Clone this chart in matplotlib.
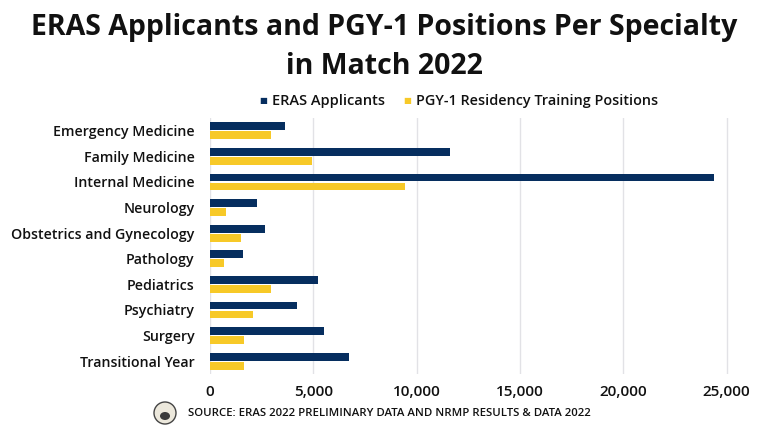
import matplotlib.pyplot as plt
import numpy as np
from matplotlib.patches import Ellipse

# data
specialties = ['Emergency Medicine', 'Family Medicine', 'Internal Medicine', 'Neurology',
               'Obstetrics and Gynecology', 'Pathology', 'Pediatrics', 'Psychiatry',
               'Surgery', 'Transitional Year']
eras_applicants = [3650, 11620, 24380, 2260, 2650, 1600, 5230, 4200, 5520, 6750]
pgy1_positions = [2940, 4950, 9420, 790, 1500, 660, 2960, 2070, 1630, 1630]
xticks = [0, 5000, 10000, 15000, 20000, 25000]

NAVY = '#062e5f'
GOLD = '#f7c928'

plt.rcParams['font.family'] = ['Open Sans', 'DejaVu Sans']

fig = plt.figure(figsize=(7.68, 4.32), dpi=100)
ax = fig.add_axes([210 / 768, 1 - 374 / 432, 530 / 768, 256 / 432])

y = np.arange(len(specialties))
h = 0.31
ax.barh(y - h / 2 - 0.02, eras_applicants, height=h, color=NAVY, zorder=3)
ax.barh(y + h / 2 + 0.02, pgy1_positions, height=h, color=GOLD, zorder=3)

ax.set_ylim(len(specialties) - 0.5, -0.5)
ax.set_xlim(0, 25650)
ax.set_yticks(y)
ax.set_yticklabels(specialties, fontsize=10.2, color='#111111', fontweight='semibold')
ax.set_xticks(xticks)
ax.set_xticklabels([f'{v:,}' for v in xticks], fontsize=11, color='#111111', fontweight='semibold')
ax.tick_params(axis='y', length=0, pad=11)
ax.tick_params(axis='x', length=0, pad=8)
ax.grid(axis='x', color='#e2e2e6', linewidth=1, zorder=0)
for s in ax.spines.values():
    s.set_visible(False)

fig.text(0.5, 1 - 28 / 432, 'ERAS Applicants and PGY-1 Positions Per Specialty',
         ha='center', va='center', fontsize=20.5, fontweight='bold', color='#111111')
fig.text(0.5, 1 - 66 / 432, 'in Match 2022',
         ha='center', va='center', fontsize=20.5, fontweight='bold', color='#111111')

# legend
fig.text(263 / 768, 1 - 101 / 432, '■', ha='center', va='center', fontsize=6, color=NAVY)
fig.text(272 / 768, 1 - 101 / 432, 'ERAS Applicants', ha='left', va='center',
         fontsize=10.5, fontweight='semibold', color='#111111')
fig.text(407 / 768, 1 - 101 / 432, '■', ha='center', va='center', fontsize=6, color=GOLD)
fig.text(416 / 768, 1 - 101 / 432, 'PGY-1 Residency Training Positions', ha='left', va='center',
         fontsize=10.4, fontweight='semibold', color='#111111')

# source line with round logo
logo = Ellipse((165 / 768, 1 - 413 / 432), 22 / 768, 22 / 432, transform=fig.transFigure,
               facecolor='#ece8dc', edgecolor='#444444', linewidth=1.0)
fig.patches.append(logo)
badge = Ellipse((165 / 768, 1 - 416 / 432), 10 / 768, 8 / 432, transform=fig.transFigure,
                facecolor='#3a3a3a', edgecolor='none')
fig.patches.append(badge)
fig.text(188 / 768, 1 - 413 / 432, 'SOURCE: ERAS 2022 PRELIMINARY DATA AND NRMP RESULTS & DATA 2022',
         ha='left', va='center', fontsize=8.2, fontweight='semibold', color='#111111')

fig.savefig('out.png', dpi=100)
